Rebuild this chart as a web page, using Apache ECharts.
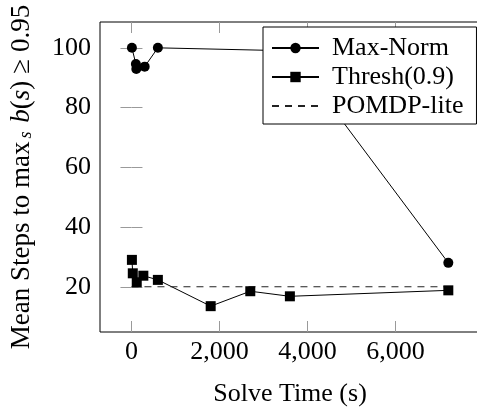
<!DOCTYPE html>
<html>
<head>
<meta charset="utf-8">
<script src="https://cdn.jsdelivr.net/npm/echarts@6/dist/echarts.min.js"></script>
<style>
html,body{margin:0;padding:0;background:#fff;}
#c{width:477px;height:408px;}
</style>
</head>
<body>
<div id="c"></div>
<script>
const xTicks = [0, 2000, 4000, 6000];
const yTicks = [20, 40, 60, 80, 100];
const maxNormTime = [10, 100, 110, 300, 600, 3600, 7200];
const maxNormSteps = [100, 94.6, 92.9, 93.7, 100, 99, 28];
const threshTime = [10, 30, 120, 270, 600, 1800, 2700, 3600, 7200];
const threshSteps = [29, 24.5, 21.5, 23.7, 22.3, 13.5, 18.5, 16.8, 18.8];
const pomdpTime = [0, 7200];
const pomdpSteps = [20, 20];

const FONT = "'Liberation Serif', 'Times New Roman', serif";
const FS = 26;
const tickStyle = {show: true, inside: true, length: 11, lineStyle: {color: '#9a9a9a', width: 1}};

function pairs(xs, ys) { return xs.map((x, i) => [x, ys[i]]); }
function fmt(v) { return String(v).replace(/\B(?=(\d{3})+(?!\d))/g, ','); }

const chart = echarts.init(document.getElementById('c'));
chart.setOption({
  animation: false,
  backgroundColor: '#fff',
  textStyle: {fontFamily: FONT},
  grid: {left: 100, top: 22, right: -3, bottom: 76, show: true, borderColor: '#000', borderWidth: 1,
         containLabel: false, outerBoundsMode: 'none'},
  xAxis: [{
    type: 'value', min: -715, max: 7920, position: 'bottom',
    axisLine: {show: false}, splitLine: {show: false},
    axisTick: Object.assign({customValues: xTicks}, tickStyle),
    axisLabel: {customValues: xTicks, formatter: fmt, color: '#000', fontFamily: FONT, fontSize: FS, margin: 7},
    name: 'Solve Time (s)', nameLocation: 'middle', nameGap: 49,
    nameTextStyle: {color: '#000', fontFamily: FONT, fontSize: FS}
  }, {
    type: 'value', min: -715, max: 7920, position: 'top',
    axisLine: {show: false}, splitLine: {show: false},
    axisTick: Object.assign({customValues: xTicks}, tickStyle),
    axisLabel: {show: false}
  }],
  yAxis: [{
    type: 'value', min: 4.85, max: 108.65, position: 'left',
    axisLine: {show: false}, splitLine: {show: false},
    axisTick: Object.assign({customValues: yTicks}, tickStyle),
    axisLabel: {customValues: yTicks, color: '#000', fontFamily: FONT, fontSize: FS, margin: 9},
    name: '{n|Mean Steps to max}{sub|s}{n| }{i|b}{n|(}{i|s}{n|)}{g|≥}{n|0.95}',
    nameLocation: 'middle', nameGap: 65, nameRotate: 90,
    nameTextStyle: {
      color: '#000', fontFamily: FONT, fontSize: 27,
      rich: {
        n: {fontFamily: FONT, fontSize: 27, color: '#000'},
        i: {fontFamily: FONT, fontSize: 27, fontStyle: 'italic', color: '#000'},
        g: {fontFamily: FONT, fontSize: 27, color: '#000', padding: [0, 7, 0, 7]},
        sub: {fontFamily: FONT, fontSize: 18, fontStyle: 'italic', color: '#000', verticalAlign: 'bottom', padding: [0, 2, 0, 3]}
      }
    }
  }, {
    type: 'value', min: 4.85, max: 108.65, position: 'right',
    axisLine: {show: false}, splitLine: {show: false},
    axisTick: Object.assign({customValues: yTicks}, tickStyle),
    axisLabel: {show: false}
  }],
  legend: {
    orient: 'vertical', left: 263, top: 27,
    backgroundColor: '#fff', borderColor: '#000', borderWidth: 1,
    padding: [8, 13, 5, 8], itemWidth: 47, itemHeight: 13, itemGap: 3,
    textStyle: {fontFamily: FONT, fontSize: FS, color: '#000', padding: [0, 0, 0, 8]},
    data: ['Max-Norm', 'Thresh(0.9)', {name: 'POMDP-lite', itemStyle: {opacity: 0}}]
  },
  series: [{
    name: 'Max-Norm', type: 'line', data: pairs(maxNormTime, maxNormSteps),
    symbol: 'circle', symbolSize: 10, showAllSymbol: true,
    lineStyle: {color: '#000', width: 1}, itemStyle: {color: '#000'}
  }, {
    name: 'Thresh(0.9)', type: 'line', data: pairs(threshTime, threshSteps),
    symbol: 'rect', symbolSize: 10, showAllSymbol: true,
    lineStyle: {color: '#000', width: 1}, itemStyle: {color: '#000'}
  }, {
    name: 'POMDP-lite', type: 'line', data: pairs(pomdpTime, pomdpSteps),
    symbol: 'none',
    lineStyle: {color: '#222', width: 1, type: [7, 6]}, itemStyle: {color: '#222'}
  }]
});
</script>
</body>
</html>
